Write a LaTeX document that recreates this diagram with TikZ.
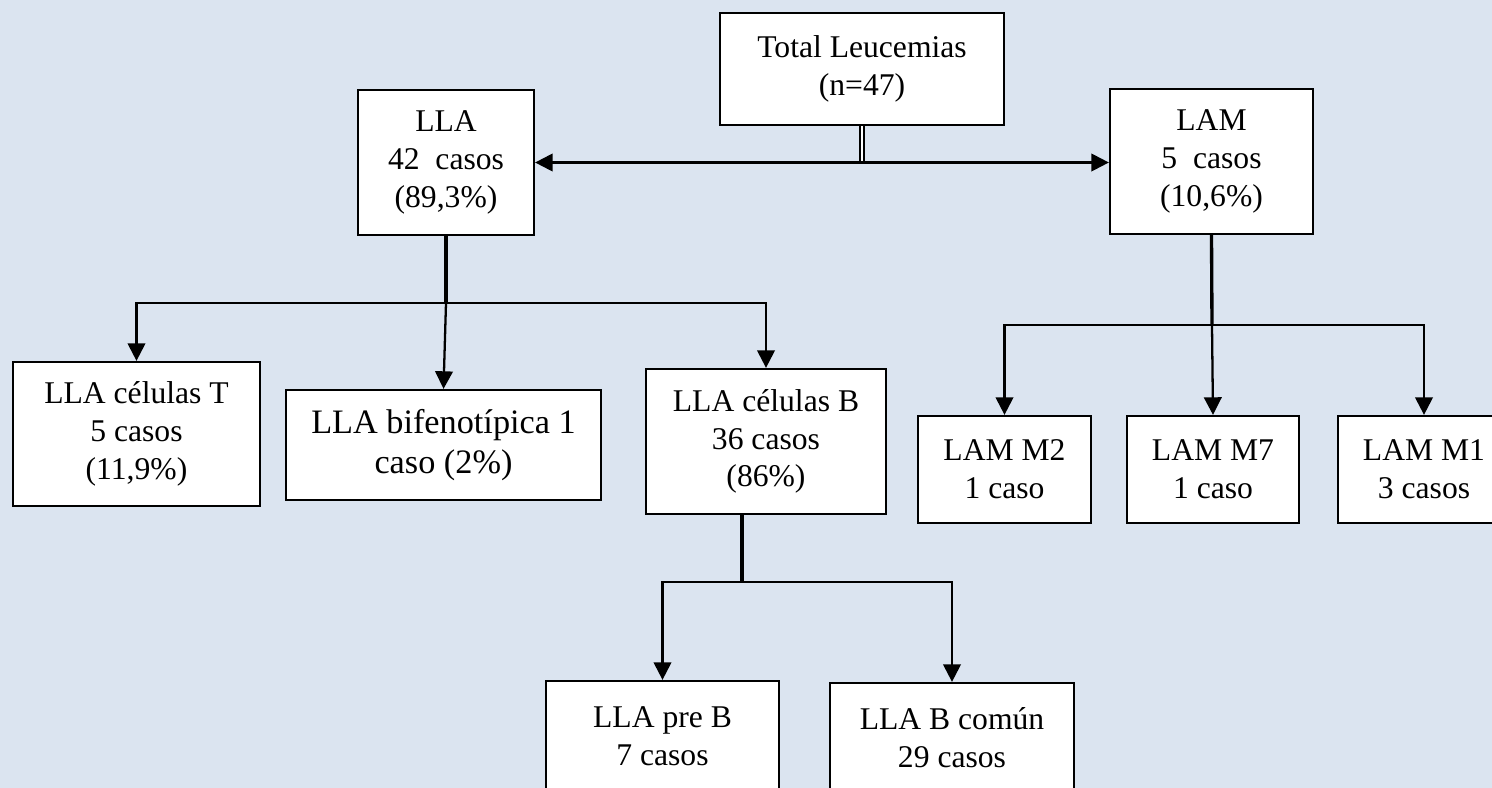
\documentclass[tikz,border=0pt]{standalone}
\usepackage{fontspec}
\setmainfont{Liberation Serif}
\usetikzlibrary{arrows.meta}
\definecolor{bg}{HTML}{DBE4F0}
\tikzset{
  >={Triangle[length=10pt,width=10pt]},
  box/.style={draw=black, line width=1.3pt, fill=white, align=center, inner sep=0pt,
              font=\fontsize{18}{21.5}\selectfont},
  l/.style={->, line width=1.3pt},
  stem/.style={line width=1.9pt},
  dbl/.style={double, line width=0.8pt, double distance=1.4pt},
}

\begin{document}
\begin{tikzpicture}[x=0.02cm,y=-0.02cm]
  \useasboundingbox (0,0) rectangle (1492,788);
  \fill[bg] (0,0) rectangle (1492,788);
  \clip (0,0) rectangle (1492,788);
  % first level
  \node[box,minimum width=5.68cm,minimum height=2.24cm] (total) at (862,69) {Total Leucemias\\(n=47)};
  \node[box,minimum width=3.52cm,minimum height=2.9cm] (lla) at (446,162.5) {LLA\\42~~casos\\(89,3\%)};
  \node[box,minimum width=4.06cm,minimum height=2.9cm] (lam) at (1211.5,161.5) {LAM\\5~~casos\\(10,6\%)};
  % LLA branch
  \node[box,minimum width=4.94cm,minimum height=2.88cm] (llat) at (136.5,434) {LLA células T\\5 casos\\(11,9\%)};
  \node[box,minimum width=6.3cm,minimum height=2.2cm,font=\fontsize{19.5}{22.5}\selectfont] (bifen) at (443.5,445) {LLA bifenotípica 1\\caso (2\%)};
  \node[box,minimum width=4.8cm,minimum height=2.9cm] (llab) at (766,441.5) {LLA células B\\36 casos\\(86\%)};
  \node[box,minimum width=4.66cm,minimum height=2.2cm] (preb) at (662.5,736) {LLA pre B\\7 casos};
  \node[box,minimum width=4.88cm,minimum height=2.2cm] (bcomun) at (952,738) {LLA B común\\29 casos};
  % LAM branch
  \node[box,minimum width=3.46cm,minimum height=2.14cm] (m2) at (1004.5,469.5) {LAM M2\\1 caso};
  \node[box,minimum width=3.44cm,minimum height=2.14cm] (m7) at (1213,469.5) {LAM M7\\1 caso};
  \node[box,minimum width=3.44cm,minimum height=2.14cm] (m1) at (1424,469.5) {LAM M1\\3 casos};
  % split points
  \coordinate (tsplit) at (total.south |- lla.east);
  \coordinate (lsplit) at (446,303);
  \coordinate (msplit) at (1212,325);
  \coordinate (bsplit) at (742,582);
  % connectors
  \draw[dbl] (total.south) -- (tsplit);
  \draw[l] (tsplit) -- (lla.east);
  \draw[l] (tsplit) -- (tsplit -| lam.west);
  \draw[stem] (lla.south) -- (lsplit);
  \draw[l] (lsplit) -| (llat.north);
  \draw[l] (lsplit) -| (llab.north);
  \draw[l] (lsplit) -- (bifen.north);
  \draw[stem] (lam.south) -- (msplit);
  \draw[l] (msplit) -| (m2.north);
  \draw[l] (msplit) -| (m1.north);
  \draw[l] (msplit) -- (m7.north);
  \draw[stem] (742,514) -- (bsplit);
  \draw[l] (bsplit) -| (preb.north);
  \draw[l] (bsplit) -| (bcomun.north);
\end{tikzpicture}
\end{document}
